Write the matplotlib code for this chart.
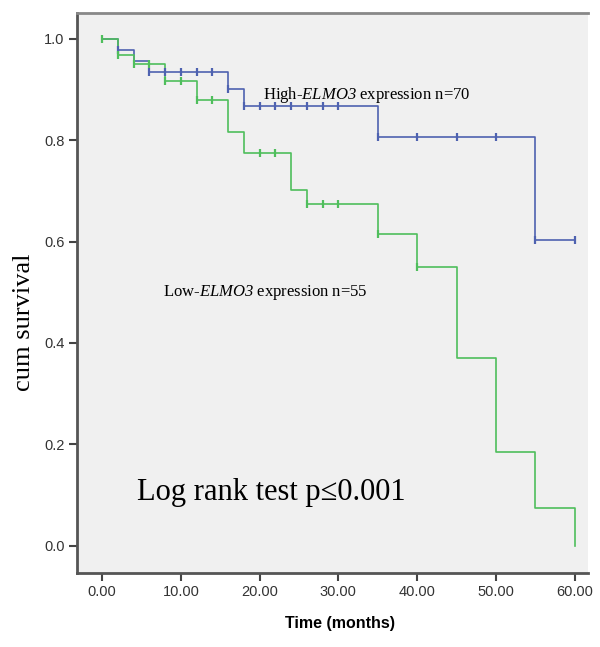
import matplotlib
matplotlib.use("Agg")
import matplotlib.pyplot as plt

# High-ELMO3 group (step times, survival after each step)
high_times = [0, 2, 4, 6, 16, 18, 35, 55, 60]
high_surv = [1.0, 0.978, 0.956, 0.934, 0.902, 0.867, 0.806, 0.604, 0.604]
high_cens_t = [2, 6, 8, 10, 12, 14, 16, 18, 20, 22, 24, 26, 28, 30, 35, 40, 45, 50, 55, 60]

# Low-ELMO3 group
low_times = [0, 2, 4, 8, 12, 16, 18, 24, 26, 35, 40, 45, 50, 55, 60]
low_surv = [1.0, 0.968, 0.951, 0.917, 0.879, 0.817, 0.774, 0.701, 0.675, 0.615, 0.549, 0.370, 0.184, 0.074, 0.0]
low_cens_t = [0, 2, 4, 6, 8, 10, 12, 14, 20, 22, 26, 28, 30, 35, 40]

x_ticks = [0, 10, 20, 30, 40, 50, 60]
x_ticklabels = ["0.00", "10.00", "20.00", "30.00", "40.00", "50.00", "60.00"]
y_ticks = [0.0, 0.2, 0.4, 0.6, 0.8, 1.0]
y_ticklabels = ["0.0", "0.2", "0.4", "0.6", "0.8", "1.0"]

plt.rcParams['mathtext.fontset'] = 'custom'
plt.rcParams['mathtext.rm'] = 'Liberation Serif:italic'
plt.rcParams['mathtext.it'] = 'Liberation Serif:italic'

blue = '#4E62B0'
green = '#4FBE5C'

fig = plt.figure(figsize=(6.0, 6.47), dpi=100)
ax = fig.add_axes([77/600, 1 - 573/647, (588 - 77)/600, (573 - 13)/647])
ax.set_facecolor('#F0F0F0')


def surv_at(times, surv, t):
    s = surv[0]
    for ti, si in zip(times, surv):
        if ti <= t:
            s = si
    return s


ax.step(high_times, high_surv, where='post', color=blue, lw=1.2, zorder=3)
ax.plot(high_cens_t, [surv_at(high_times, high_surv, t) for t in high_cens_t],
        ls='none', marker='|', ms=6, mew=1.6, color=blue, zorder=4)

ax.step(low_times, low_surv, where='post', color=green, lw=1.2, zorder=3)
ax.plot(low_cens_t, [surv_at(low_times, low_surv, t) for t in low_cens_t],
        ls='none', marker='|', ms=6, mew=1.6, color=green, zorder=4)

ax.set_xlim(-3.2, 61.7)
ax.set_ylim(-0.054, 1.051)
ax.set_xticks(x_ticks)
ax.set_xticklabels(x_ticklabels, family='Liberation Sans')
ax.set_yticks(y_ticks)
ax.set_yticklabels(y_ticklabels, family='Liberation Sans')
ax.tick_params(direction='out', length=6, width=1.5, color='#444444',
               labelsize=10.5, labelcolor='#333333', pad=3)

for s in ['left', 'bottom']:
    ax.spines[s].set_color('#555555')
    ax.spines[s].set_linewidth(2)
ax.spines['top'].set_color('#888888')
ax.spines['top'].set_linewidth(2)
ax.spines['right'].set_visible(False)

ax.set_xlabel('Time (months)', fontsize=11.5, fontweight='bold',
              family='Liberation Sans')
ax.xaxis.set_label_coords((340 - 77) / 511, -(616 - 573) / 560)
ax.set_ylabel('cum survival', fontsize=19, family='Liberation Serif')
ax.yaxis.set_label_coords((35 - 77) / 511, (573 - 322) / 560)

ax.text(20.4, 0.89, r'High-$\mathrm{ELMO3}$ expression n=70', fontsize=12,
        family='Liberation Serif', va='center', ha='left')
ax.text(7.7, 0.50, r'Low-$\mathrm{ELMO3}$ expression n=55', fontsize=12,
        family='Liberation Serif', va='center', ha='left')
ax.text(4.4, 0.105, 'Log rank test p≤0.001', fontsize=22,
        family='Liberation Serif', va='center', ha='left')

fig.savefig('out.png', dpi=100)
